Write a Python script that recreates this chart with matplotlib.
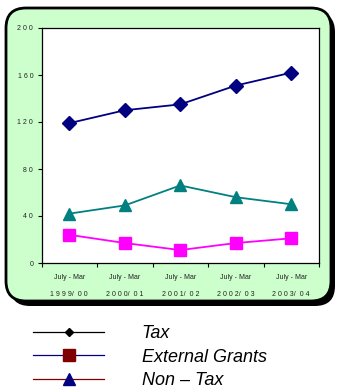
import numpy as np
import matplotlib.pyplot as plt
from matplotlib.patches import FancyBboxPatch
from matplotlib.lines import Line2D

plt.rcParams['font.family'] = ['Liberation Sans', 'DejaVu Sans']

periods = ["July - Mar\n1 9 9 9/  0 0", "July - Mar\n2 0 0 0/  0 1", "July - Mar\n2 0 0 1/  0 2",
           "July - Mar\n2 0 0 2/  0 3", "July - Mar\n2 0 0 3/  0 4"]
tax = [119, 130, 135, 151, 162]
non_tax = [42, 49, 66, 56, 50]
ext_grants = [24, 17, 11, 17, 21]
y_ticks = [0, 40, 80, 120, 160, 200]

W, H = 337, 389
fig = plt.figure(figsize=(W / 100, H / 100), dpi=100)

# background frame drawn in pixel coordinates
bg = fig.add_axes([0, 0, 1, 1])
bg.set_xlim(0, W)
bg.set_ylim(H, 0)
bg.axis('off')
shadow = FancyBboxPatch((10, 12), 325, 294, boxstyle="round,pad=0,rounding_size=20",
                        fc='black', ec='black', lw=0)
frame = FancyBboxPatch((6, 8), 325, 293, boxstyle="round,pad=0,rounding_size=20",
                       fc='#ccffcc', ec='black', lw=2)
bg.add_patch(shadow)
bg.add_patch(frame)

ax = fig.add_axes([41.5 / W, 1 - 263 / H, 277.5 / W, 235 / H])
x = np.arange(len(periods))
ax.plot(x, tax, color='#000080', lw=1.3, marker='D', ms=7, zorder=3)
ax.plot(x, non_tax, color='#008080', lw=1.3, marker='^', ms=9, zorder=3)
ax.plot(x, ext_grants, color='#ff00ff', lw=1.3, marker='s', ms=8, zorder=3)

ax.set_xlim(-0.5, 4.5)
ax.set_ylim(0, 200)
ax.set_yticks(y_ticks)
ax.set_yticklabels([' '.join(str(v)) for v in y_ticks], fontsize=5, color='#222222')
ax.set_xticks(np.arange(-0.5, 5, 1))
ax.set_xticklabels([])
ax.set_xticks(x, minor=True)
ax.set_xticklabels(periods, minor=True, fontsize=5, color='#222222', linespacing=3.0)
ax.tick_params(axis='x', which='major', direction='out', length=3, width=0.8)
ax.tick_params(axis='x', which='minor', length=0, pad=8)
ax.tick_params(axis='y', direction='out', length=3, width=0.8, pad=3)
for s in ax.spines.values():
    s.set_linewidth(0.9)
    s.set_color('black')

handles = [
    Line2D([], [], color='black', lw=0.9, marker='D', ms=4),
    Line2D([], [], color='#000080', lw=0.9, marker='s', ms=8, mfc='#800000', mec='#800000'),
    Line2D([], [], color='#800000', lw=0.9, marker='^', ms=9, mfc='#000080', mec='#000080'),
]
fig.legend(handles, ['Tax', 'External Grants', 'Non – Tax'], loc='upper left',
           bbox_to_anchor=(19 / W, 1 - 311 / H), frameon=False,
           prop={'style': 'italic', 'size': 13}, handlelength=3.9,
           handletextpad=2.1, labelspacing=0.35, borderpad=0.3)

fig.savefig('out.png', dpi=100)
